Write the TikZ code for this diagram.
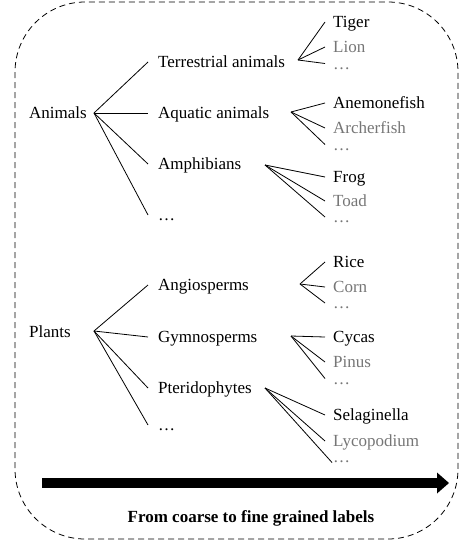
\documentclass[tikz,border=0pt]{standalone}
\usepackage{fontspec}
\setmainfont{Liberation Serif}
\definecolor{leafgray}{RGB}{118,118,118}
\tikzset{
  lbl/.style={anchor=west, inner sep=0pt, text height=12pt, text depth=1pt, font=\fontsize{17}{20}\selectfont},
  glbl/.style={lbl, text=leafgray},
  conn/.style={draw=black, line width=0.8pt},
  frame/.style={draw=black, line width=0.8pt, dash pattern=on 6pt off 4pt, rounded corners=70pt},
}
\begin{document}
\begin{tikzpicture}[x=1pt,y=-1pt]
\useasboundingbox (0,0) rectangle (459,541);
\draw[frame] (15,2) rectangle (458,539);

% level 1
\node[lbl] (animals) at (29,113) {Animals};
\node[lbl] (plants) at (29,332) {Plants};
% level 2
\node[lbl] (terr) at (158,62) {Terrestrial animals};
\node[lbl] (aqua) at (158,113) {Aquatic animals};
\node[lbl] (amph) at (158,164) {Amphibians};
\node[lbl] (adots) at (158,215) {…};
\node[lbl] (angio) at (158,285) {Angiosperms};
\node[lbl] (gymno) at (158,337) {Gymnosperms};
\node[lbl] (pteri) at (158,388) {Pteridophytes};
\node[lbl] (pdots) at (158,425) {…};
% level 3
\node[lbl] (tiger) at (333,22) {Tiger};
\node[glbl] (lion) at (333,47) {Lion};
\node[glbl] (tdots) at (333,63.5) {…};
\node[lbl] (anem) at (333,103) {Anemonefish};
\node[glbl] (arch) at (333,128) {Archerfish};
\node[glbl] (qdots) at (333,144.5) {…};
\node[lbl] (frog) at (333,177) {Frog};
\node[glbl] (toad) at (333,201) {Toad};
\node[glbl] (fdots) at (333,217) {…};
\node[lbl] (rice) at (333,262) {Rice};
\node[glbl] (corn) at (333,287) {Corn};
\node[glbl] (rdots) at (333,303) {…};
\node[lbl] (cycas) at (333,337) {Cycas};
\node[glbl] (pinus) at (333,362) {Pinus};
\node[glbl] (cdots) at (333,378.5) {…};
\node[lbl] (sela) at (333,415) {Selaginella};
\node[glbl] (lyco) at (333,441) {Lycopodium};
\node[glbl] (sdots) at (333,457) {…};

% roots
\coordinate (ra) at (94,113);
\coordinate (rp) at (94,331);
\coordinate (rterr) at (298,60);
\coordinate (raqua) at (291,112);
\coordinate (ramph) at (265,165);
\coordinate (rangio) at (300,284);
\coordinate (rgymno) at (291,336);
\coordinate (rpteri) at (265,388);

\foreach \n in {terr,aqua,amph,adots} \draw[conn] (ra) -- ([xshift=-10pt]\n.west);
\foreach \n in {angio,gymno,pteri,pdots} \draw[conn] (rp) -- ([xshift=-10pt]\n.west);
\foreach \n in {tiger,lion,tdots} \draw[conn] (rterr) -- ([xshift=-8pt]\n.west);
\foreach \n in {anem,arch,qdots} \draw[conn] (raqua) -- ([xshift=-8pt]\n.west);
\foreach \n in {frog,toad,fdots} \draw[conn] (ramph) -- ([xshift=-8pt]\n.west);
\foreach \n in {rice,corn,rdots} \draw[conn] (rangio) -- ([xshift=-8pt]\n.west);
\foreach \n in {cycas,pinus,cdots} \draw[conn] (rgymno) -- ([xshift=-8pt]\n.west);
\foreach \n in {sela,lyco} \draw[conn] (rpteri) -- ([xshift=-8pt]\n.west);
\draw[conn] (rpteri) -- ([xshift=-1pt]sdots.base west);

% arrow
\coordinate (arrT) at (449,483);
\fill[black] (42,478) rectangle (437.5,488);
\fill[black] (437,472.5) -- (arrT) -- (437,493.5) -- cycle;
\node[font=\fontsize{17}{20}\selectfont\bfseries, inner sep=0pt] (cap) at (251,518) {From coarse to fine grained labels};
\end{tikzpicture}
\end{document}
